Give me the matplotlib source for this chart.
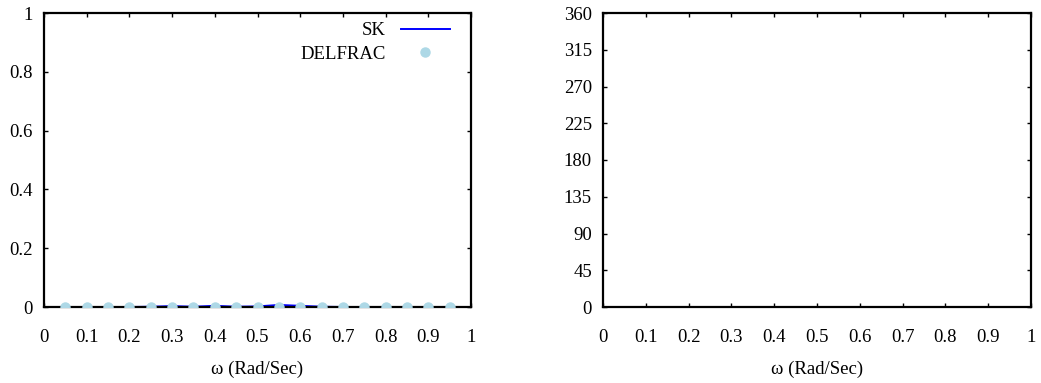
import matplotlib
matplotlib.use('Agg')
import matplotlib.pyplot as plt

plt.rcParams['font.family'] = ['Liberation Serif', 'DejaVu Serif']

# frequency grid (rad/s)
omega = [0.05, 0.10, 0.15, 0.20, 0.25, 0.30, 0.35, 0.40, 0.45, 0.50,
         0.55, 0.60, 0.65, 0.70, 0.75, 0.80, 0.85, 0.90, 0.95]
sk = [0.0, 0.0, 0.0, 0.0, 0.001, 0.003, 0.001, 0.004, 0.001, 0.002,
      0.007, 0.004, 0.001, 0.0, 0.0, 0.0, 0.0, 0.0, 0.0]
delfrac = [0.0] * 19

amp_ticks = [0, 0.2, 0.4, 0.6, 0.8, 1]
amp_labels = ['0', '0.2', '0.4', '0.6', '0.8', '1']
phase_ticks = [0, 45, 90, 135, 180, 225, 270, 315, 360]
x_ticks = [0, 0.1, 0.2, 0.3, 0.4, 0.5, 0.6, 0.7, 0.8, 0.9, 1]
x_labels = ['0', '0.1', '0.2', '0.3', '0.4', '0.5', '0.6', '0.7', '0.8', '0.9', '1']

FS = 13.5
W, H = 1041, 383
fig = plt.figure(figsize=(W / 100, H / 100), dpi=100)
ax1 = fig.add_axes([44 / W, (H - 307) / H, 427 / W, 294 / H])
ax2 = fig.add_axes([603 / W, (H - 307) / H, 428 / W, 294 / H])


def style(ax, yticks, ylabels):
    ax.set_xlim(0, 1)
    ax.set_xticks(x_ticks)
    ax.set_xticklabels(x_labels)
    ax.set_yticks(yticks)
    ax.set_yticklabels(ylabels)
    ax.tick_params(direction='in', top=True, right=True, length=3, width=1.0,
                   labelsize=FS, colors='black')
    ax.tick_params(axis='x', pad=15.5)
    ax.tick_params(axis='y', pad=8)
    for s in ax.spines.values():
        s.set_linewidth(1.6)
    ax.set_xlabel('ω (Rad/Sec)', fontsize=FS, labelpad=11)


ax1.plot(omega, sk, color='#0000ff', lw=1.4, label='SK', zorder=2)
ax1.plot(omega, delfrac, ls='none', marker='o', ms=6.5, color='#add8e6',
         label='DELFRAC', zorder=3)
ax1.set_ylim(0, 1)
style(ax1, amp_ticks, amp_labels)
ax1.legend(loc='upper right', bbox_to_anchor=(0.985, 1.02), frameon=False,
           markerfirst=False, handlelength=2.6, fontsize=FS,
           labelspacing=0.35, handletextpad=0.8, borderpad=0.3)

ax2.set_ylim(0, 360)
style(ax2, phase_ticks, [str(t) for t in phase_ticks])

fig.savefig('out.png', dpi=100)
